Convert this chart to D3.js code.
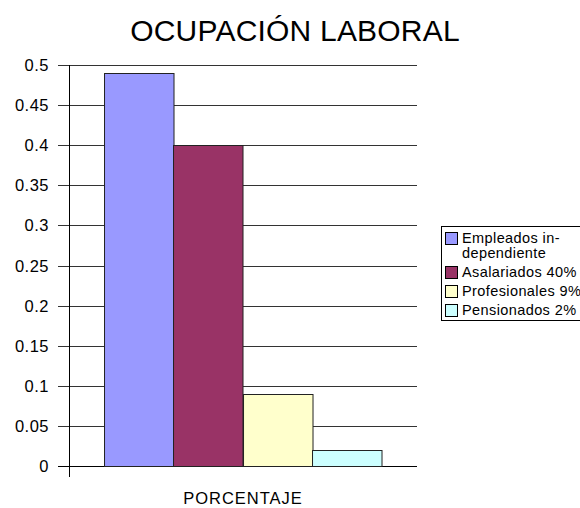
<!DOCTYPE html>
<html>
<head>
<meta charset="utf-8">
<script src="https://cdn.jsdelivr.net/npm/d3@7"></script>
<style>
  body { margin: 0; background: #fff; }
  svg { display: block; font-family: "Liberation Sans", Arial, sans-serif; }
</style>
</head>
<body>
<script>
// chart data
const categories = ['PORCENTAJE'];
const series = ['Empleados in-dependiente', 'Asalariados 40%', 'Profesionales 9%', 'Pensionados 2%'];
const legendLines = [['Empleados in-', 'dependiente'], ['Asalariados 40%'], ['Profesionales 9%'], ['Pensionados 2%']];
const values = [0.49, 0.40, 0.09, 0.02];
const yTicks = [0, 0.05, 0.1, 0.15, 0.2, 0.25, 0.3, 0.35, 0.4, 0.45, 0.5];
const colors = ['#9999ff', '#993366', '#ffffcc', '#ccffff'];

const width = 580, height = 508;
const plot = {left: 69, right: 417, top: 65, bottom: 466};

const svg = d3.select('body').append('svg')
  .attr('width', width)
  .attr('height', height);

const y = d3.scaleLinear().domain([0, 0.5]).range([plot.bottom, plot.top]);
const x0 = d3.scaleBand().domain(categories)
  .range([plot.left, plot.right]).paddingInner(0).paddingOuter(0.126);
const x1 = d3.scaleBand().domain(series).range([0, x0.bandwidth()]).padding(0);

// title
svg.append('text')
  .attr('x', 295).attr('y', 41)
  .attr('text-anchor', 'middle')
  .style('font-size', '30px')
  .style('letter-spacing', '0.2px')
  .text('OCUPACIÓN LABORAL');

// gridlines + ticks
svg.append('g')
  .selectAll('line')
  .data(yTicks)
  .join('line')
  .attr('x1', plot.left - 11).attr('x2', plot.right)
  .attr('y1', d => Math.round(y(d)) + 0.5).attr('y2', d => Math.round(y(d)) + 0.5)
  .attr('stroke', d => d === 0 ? '#000' : '#333')
  .attr('stroke-width', 1);

svg.append('g')
  .selectAll('text')
  .data(yTicks)
  .join('text')
  .attr('x', 49).attr('y', d => y(d) + 6)
  .attr('text-anchor', 'end')
  .style('font-size', '16.5px')
  .style('letter-spacing', '0.5px')
  .text(d => d3.format('~g')(d));

// y axis line
svg.append('line')
  .attr('x1', plot.left + 0.5).attr('x2', plot.left + 0.5)
  .attr('y1', plot.top).attr('y2', plot.bottom + 11)
  .attr('stroke', '#000');

// bars
svg.append('g')
  .selectAll('g')
  .data(categories)
  .join('g')
  .attr('transform', d => `translate(${x0(d)},0)`)
  .selectAll('rect')
  .data(() => values.map((v, i) => ({key: series[i], value: v, color: colors[i]})))
  .join('rect')
  .attr('x', d => Math.round(x1(d.key)) + 0.5)
  .attr('y', d => Math.round(y(d.value)) + 0.5)
  .attr('width', x1.bandwidth())
  .attr('height', d => Math.round(y(0)) - Math.round(y(d.value)))
  .attr('fill', d => d.color)
  .attr('stroke', '#222')
  .attr('stroke-width', 1);

// category label
svg.append('text')
  .attr('x', x0(categories[0]) + x0.bandwidth() / 2).attr('y', 504)
  .attr('text-anchor', 'middle')
  .style('font-size', '16.5px')
  .style('letter-spacing', '1px')
  .text(categories[0]);

// legend
const legend = svg.append('g').attr('transform', 'translate(441,226)');
legend.append('rect')
  .attr('x', 0.5).attr('y', 0.5)
  .attr('width', 150).attr('height', 94)
  .attr('fill', '#fff').attr('stroke', '#000');

let rowY = 6;
legendLines.forEach((lines, i) => {
  legend.append('rect')
    .attr('x', 4.5).attr('y', rowY + 0.5)
    .attr('width', 12).attr('height', 12)
    .attr('fill', colors[i]).attr('stroke', '#000');
  lines.forEach((t, j) => {
    legend.append('text')
      .attr('x', 21).attr('y', rowY + 11 + j * 15)
      .style('font-size', '14.5px')
      .style('letter-spacing', '0.4px')
      .text(t);
  });
  rowY += 15 * (lines.length - 1) + 19;
});
</script>
</body>
</html>
